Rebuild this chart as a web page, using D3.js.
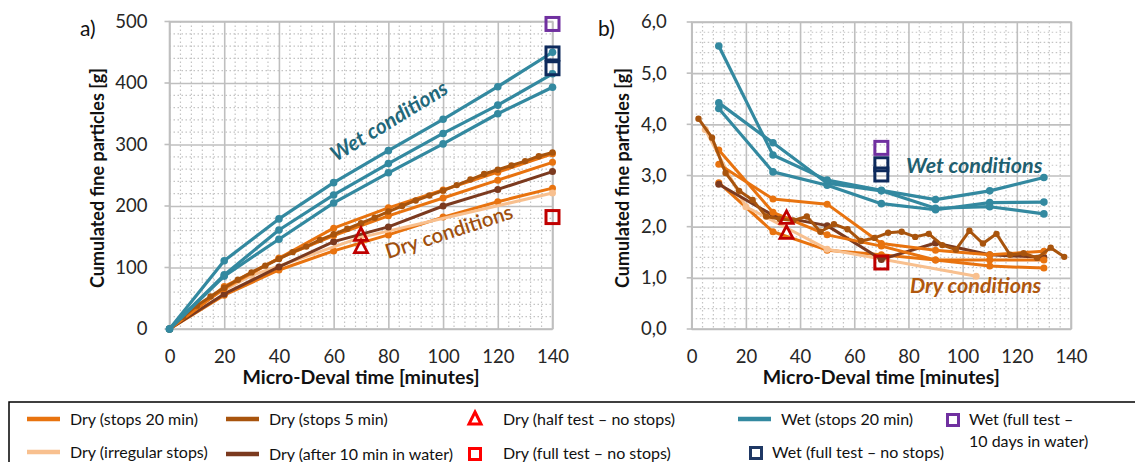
<!DOCTYPE html>
<html>
<head>
<meta charset="utf-8">
<script src="https://cdn.jsdelivr.net/npm/d3@7"></script>
<style>
  html, body { margin: 0; padding: 0; background: #fff; }
  svg { display: block; font-family: Lato, "Liberation Sans", sans-serif; }
</style>
</head>
<body>
<svg id="chart" width="1135" height="462"></svg>
<script>
// ---- Panel a) cumulated mass [g] vs Micro-Deval time [min] ----
const tStops20 = [0, 20, 40, 60, 80, 100, 120, 140];
const aWet1 = [0, 111, 179, 238, 290, 341, 394, 450];
const aWet2 = [0, 88, 161, 218, 269, 318, 364, 415];
const aWet3 = [0, 86, 146, 205, 254, 301, 350, 393];
const aDry20a = [0, 66, 115, 164, 197, 226, 255, 285];
const aDry20b = [0, 69, 115, 152, 184, 213, 242, 271];
const aDry20c = [0, 55, 96, 127, 153, 182, 207, 229];
const aDryWater = [0, 57, 101, 142, 166, 200, 227, 256];
const tIrregular = [0, 10, 30, 70, 140];
const aDryIrregular = [0, 39, 87, 149, 221];
const tStops5 = [0, 5, 10, 15, 20, 25, 30, 35, 40, 45, 50, 55, 60, 65, 70, 75, 80, 85, 90, 95, 100, 105, 110, 115, 120, 125, 130, 135, 140];
const aDry5 = [0, 20, 38, 53, 67, 80, 92, 103, 114, 125, 134, 145, 154, 163, 172, 181, 191, 200, 209, 217, 225, 234, 243, 252, 259, 266, 273, 281, 287];
const aHalfTestT = [70, 70];
const aHalfTest = [153, 133];
const aFullDryT = [140];
const aFullDry = [182];
const aFullWetT = [140, 140];
const aFullWet = [448, 424];
const aWet10dT = [140];
const aWet10d = [496];

// ---- Panel b) mass per minute [g] at interval mid-points ----
const tMid20 = [10, 30, 50, 70, 90, 110, 130];
const bWet1 = [5.53, 3.40, 2.91, 2.71, 2.53, 2.70, 2.96];
const bWet2 = [4.42, 3.64, 2.85, 2.70, 2.36, 2.39, 2.25];
const bWet3 = [4.31, 3.07, 2.81, 2.45, 2.33, 2.47, 2.48];
const bDry20a = [3.22, 2.54, 2.44, 1.67, 1.54, 1.45, 1.52];
const bDry20b = [3.50, 2.28, 1.84, 1.62, 1.35, 1.35, 1.35];
const bDry20c = [2.86, 1.90, 1.54, 1.45, 1.35, 1.23, 1.19];
const bDryWater = [2.83, 2.22, 2.02, 1.36, 1.68, 1.45, 1.40];
const tIrregularMid = [5, 20, 50, 105];
const bDryIrregular = [3.90, 2.39, 1.56, 1.03];
const tStops5Mid = [2.5, 7.5, 12.5, 17.5, 22.5, 27.5, 32.5, 37.5, 42.5, 47.5, 52.5, 57.5, 62.5, 67.5, 72.5, 77.5, 82.5, 87.5, 92.5, 97.5, 102.5, 107.5, 112.5, 117.5, 122.5, 127.5, 132.5, 137.5];
const bDry5 = [4.11, 3.74, 3.05, 2.70, 2.52, 2.20, 2.15, 2.12, 2.20, 1.90, 2.05, 1.95, 1.72, 1.78, 1.88, 1.90, 1.80, 1.86, 1.64, 1.55, 1.92, 1.67, 1.86, 1.45, 1.48, 1.39, 1.59, 1.41];
const bHalfTestT = [35, 35];
const bHalfTest = [2.17, 1.88];
const bFullDryT = [70];
const bFullDry = [1.30];
const bFullWetT = [70, 70];
const bFullWet = [3.22, 3.02];
const bWet10dT = [70];
const bWet10d = [3.54];

const xTicks = [0, 20, 40, 60, 80, 100, 120, 140];
const aYTicks = [0, 100, 200, 300, 400, 500];
const bYTicks = [0, 1, 2, 3, 4, 5, 6];

const C = {
  dry20: "#E8730F",
  dry5: "#A8540D",
  irregular: "#F8C08F",
  water: "#7B3A1F",
  wet: "#3389A0",
  red: "#C00000",
  redLegend: "#FF0000",
  navy: "#0E2A5C",
  purple: "#7030A0",
  grid: "#BFBFBF",
  minor: "#C4C4C4"
};

const svg = d3.select("#chart");

function panel(cfg) {
  const g = svg.append("g");
  const x = d3.scaleLinear().domain([0, 140]).range([cfg.x0, cfg.x1]);
  const y = d3.scaleLinear().domain(cfg.yDomain).range([cfg.y0, cfg.y1]);

  // minor grid (dotted)
  const minorX = d3.range(0, 140.01, 4).filter(v => v % 20 !== 0);
  const minorY = d3.range(cfg.yDomain[0], cfg.yDomain[1] + 1e-9, cfg.yMinor)
    .filter(v => Math.abs(v / cfg.yMajor - Math.round(v / cfg.yMajor)) > 1e-6);
  g.append("g").selectAll("line").data(minorX).join("line")
    .attr("x1", d => x(d)).attr("x2", d => x(d))
    .attr("y1", cfg.y1).attr("y2", cfg.y0)
    .attr("stroke", C.minor).attr("stroke-width", 1.2).attr("stroke-dasharray", "1.5,2.5");
  g.append("g").selectAll("line").data(minorY).join("line")
    .attr("x1", cfg.x0).attr("x2", cfg.x1)
    .attr("y1", d => y(d)).attr("y2", d => y(d))
    .attr("stroke", C.minor).attr("stroke-width", 1.2).attr("stroke-dasharray", "1.5,2.5");

  // major grid through the axis generators
  g.append("g").attr("transform", `translate(0,${cfg.y0})`)
    .call(d3.axisBottom(x).tickValues(xTicks).tickSize(-(cfg.y0 - cfg.y1)).tickFormat(""))
    .call(s => s.select(".domain").remove())
    .call(s => s.selectAll("line").attr("stroke", C.grid).attr("stroke-width", 1.6));
  g.append("g").attr("transform", `translate(${cfg.x0},0)`)
    .call(d3.axisLeft(y).tickValues(cfg.yTicks).tickSize(-(cfg.x1 - cfg.x0)).tickFormat(""))
    .call(s => s.select(".domain").remove())
    .call(s => s.selectAll("line").attr("stroke", C.grid).attr("stroke-width", 1.6));
  // frame
  g.append("rect").attr("x", cfg.x0).attr("y", cfg.y1)
    .attr("width", cfg.x1 - cfg.x0).attr("height", cfg.y0 - cfg.y1)
    .attr("fill", "none").attr("stroke", C.grid).attr("stroke-width", 1.6);
  // small outer ticks on the value axis
  g.append("g").selectAll("line").data(cfg.yTicks).join("line")
    .attr("x1", cfg.x0 - 5).attr("x2", cfg.x0).attr("y1", d => y(d)).attr("y2", d => y(d))
    .attr("stroke", C.grid).attr("stroke-width", 1.6);

  // tick labels
  const yAxis = g.append("g").attr("transform", `translate(${cfg.x0 - cfg.yLabelGap},0)`)
    .call(d3.axisLeft(y).tickValues(cfg.yTicks).tickSize(0).tickFormat(cfg.yFormat));
  yAxis.select(".domain").remove();
  yAxis.selectAll("text").attr("font-size", 18.5).attr("fill", "#262626")
    .attr("font-family", "Lato, sans-serif");
  const xAxis = g.append("g").attr("transform", `translate(0,${cfg.y0 + 18})`)
    .call(d3.axisBottom(x).tickValues(xTicks).tickSize(0));
  xAxis.select(".domain").remove();
  xAxis.selectAll("text").attr("font-size", 18.5).attr("fill", "#262626")
    .attr("font-family", "Lato, sans-serif");

  // axis titles
  g.append("text").attr("x", (cfg.x0 + cfg.x1) / 2).attr("y", 384)
    .attr("text-anchor", "middle").attr("font-size", 19.5).attr("font-weight", 700)
    .attr("fill", "#111").text("Micro-Deval time [minutes]");
  g.append("text")
    .attr("transform", `translate(${cfg.titleX},178) rotate(-90)`)
    .attr("text-anchor", "middle").attr("font-size", 18).attr("font-weight", 700)
    .attr("fill", "#111").text("Cumulated fine particles [g]");
  g.append("text").attr("x", cfg.tagX).attr("y", 36).attr("font-size", 21)
    .attr("fill", "#111").text(cfg.tag);

  const line = d3.line().x(d => x(d[0])).y(d => y(d[1]));
  function series(ts, vs, color, width, r) {
    const pts = ts.map((t, i) => [t, vs[i]]);
    g.append("path").datum(pts).attr("d", line)
      .attr("fill", "none").attr("stroke", color).attr("stroke-width", width)
      .attr("stroke-linejoin", "round").attr("stroke-linecap", "round");
    g.append("g").selectAll("circle").data(pts).join("circle")
      .attr("cx", d => x(d[0])).attr("cy", d => y(d[1])).attr("r", r).attr("fill", color);
  }
  cfg.draw(series);

  function squares(ts, vs, color) {
    g.append("g").selectAll("rect").data(ts.map((t, i) => [t, vs[i]])).join("rect")
      .attr("x", d => x(d[0]) - 6.5).attr("y", d => y(d[1]) - 6.5)
      .attr("width", 13).attr("height", 13)
      .attr("fill", "none").attr("stroke", color).attr("stroke-width", 3);
  }
  function triangles(ts, vs, color) {
    g.append("g").selectAll("path").data(ts.map((t, i) => [t, vs[i]])).join("path")
      .attr("d", d => {
        const cx = x(d[0]), cy = y(d[1]);
        return `M${cx},${cy - 7}L${cx + 6.5},${cy + 5.5}L${cx - 6.5},${cy + 5.5}Z`;
      })
      .attr("fill", "none").attr("stroke", color).attr("stroke-width", 2.8)
      .attr("stroke-linejoin", "miter");
  }
  cfg.markers(squares, triangles);
  cfg.notes(g);
  return { x, y };
}

panel({
  x0: 169.5, x1: 552.5, y0: 329, y1: 21.5,
  yDomain: [0, 500], yTicks: aYTicks, yMajor: 100, yMinor: 20,
  yFormat: d3.format("d"), yLabelGap: 19,
  titleX: 104, tag: "a)", tagX: 80,
  draw(series) {
    series(tStops20, aDry20c, C.dry20, 3, 3.5);
    series(tIrregular, aDryIrregular, C.irregular, 3, 3.5);
    series(tStops20, aDryWater, C.water, 3, 3.5);
    series(tStops20, aDry20b, C.dry20, 3, 3.5);
    series(tStops20, aDry20a, C.dry20, 3, 3.5);
    series(tStops5, aDry5, C.dry5, 3, 3.2);
    series(tStops20, aWet3, C.wet, 3.2, 3.8);
    series(tStops20, aWet2, C.wet, 3.2, 3.8);
    series(tStops20, aWet1, C.wet, 3.2, 3.8);
  },
  markers(squares, triangles) {
    triangles(aHalfTestT, aHalfTest, C.red);
    squares(aFullDryT, aFullDry, C.red);
    squares(aFullWetT, aFullWet, C.navy);
    squares(aWet10dT, aWet10d, C.purple);
  },
  notes(g) {
    g.append("text").attr("transform", "translate(336,162) rotate(-31.5)")
      .attr("font-size", 21).attr("font-weight", 700).attr("font-style", "italic")
      .attr("fill", "#22677A").text("Wet conditions");
    g.append("text").attr("transform", "translate(388,259) rotate(-18)")
      .attr("font-size", 20.5).attr("font-weight", 600)
      .attr("fill", "#A0500E").text("Dry conditions");
  }
});

panel({
  x0: 691.7, x1: 1071, y0: 329, y1: 22,
  yDomain: [0, 6], yTicks: bYTicks, yMajor: 1, yMinor: 0.2,
  yFormat: d => d3.format(".1f")(d).replace(".", ","), yLabelGap: 22,
  titleX: 629, tag: "b)", tagX: 598,
  draw(series) {
    series(tMid20, bDry20c, C.dry20, 3, 3.5);
    series(tIrregularMid, bDryIrregular, C.irregular, 3, 3.5);
    series(tMid20, bDryWater, C.water, 3, 3.5);
    series(tMid20, bDry20b, C.dry20, 3, 3.5);
    series(tMid20, bDry20a, C.dry20, 3, 3.5);
    series(tStops5Mid, bDry5, C.dry5, 3, 3.2);
    series(tMid20, bWet3, C.wet, 3.2, 3.8);
    series(tMid20, bWet2, C.wet, 3.2, 3.8);
    series(tMid20, bWet1, C.wet, 3.2, 3.8);
  },
  markers(squares, triangles) {
    triangles(bHalfTestT, bHalfTest, C.red);
    squares(bFullDryT, bFullDry, C.red);
    squares(bFullWetT, bFullWet, C.navy);
    squares(bWet10dT, bWet10d, C.purple);
  },
  notes(g) {
    g.append("text").attr("x", 906).attr("y", 173)
      .attr("font-size", 21.5).attr("font-weight", 700).attr("font-style", "italic")
      .attr("fill", "#1F5F70").text("Wet conditions");
    g.append("text").attr("x", 910).attr("y", 293)
      .attr("font-size", 21.5).attr("font-weight", 700).attr("font-style", "italic")
      .attr("fill", "#B0580E").text("Dry conditions");
  }
});

// ---- legend ----
const legend = svg.append("g").attr("font-size", 16).attr("fill", "#111");
legend.append("rect").attr("x", 9).attr("y", 402).attr("width", 1140).attr("height", 80)
  .attr("fill", "none").attr("stroke", "#000").attr("stroke-width", 1.5);

const legendLines = [
  { x: 27, y: 419, color: C.dry20, label: "Dry (stops 20 min)" },
  { x: 226, y: 419, color: C.dry5, label: "Dry (stops 5 min)" },
  { x: 738, y: 419, color: C.wet, label: "Wet (stops 20 min)" },
  { x: 27, y: 452, color: C.irregular, label: "Dry (irregular stops)" },
  { x: 226, y: 454, color: C.water, label: "Dry (after 10 min in water)" }
];
legendLines.forEach(d => {
  legend.append("line").attr("x1", d.x).attr("x2", d.x + 33).attr("y1", d.y).attr("y2", d.y)
    .attr("stroke", d.color).attr("stroke-width", 4.5);
  legend.append("text").attr("x", d.x + 43).attr("y", d.y + 5.5).text(d.label);
});

// triangle: half test
legend.append("path").attr("d", "M475,412L481,424L469,424Z")
  .attr("fill", "none").attr("stroke", C.redLegend).attr("stroke-width", 3);
legend.append("text").attr("x", 503).attr("y", 424.5).text("Dry (half test \u2013 no stops)");

const legendSquares = [
  { x: 475, y: 454, color: C.redLegend, label: "Dry (full test \u2013 no stops)", tx: 503 },
  { x: 756, y: 453, color: "#1F3864", label: "Wet (full test \u2013 no stops)", tx: 772 },
  { x: 953, y: 420, color: C.purple, label: "Wet (full test \u2013", tx: 969 }
];
legendSquares.forEach(d => {
  legend.append("rect").attr("x", d.x - 5.5).attr("y", d.y - 5.5).attr("width", 11).attr("height", 11)
    .attr("fill", "none").attr("stroke", d.color).attr("stroke-width", 3);
  legend.append("text").attr("x", d.tx).attr("y", d.y + 5).text(d.label);
});
legend.append("text").attr("x", 969).attr("y", 447).text("10 days in water)");
</script>
</body>
</html>
